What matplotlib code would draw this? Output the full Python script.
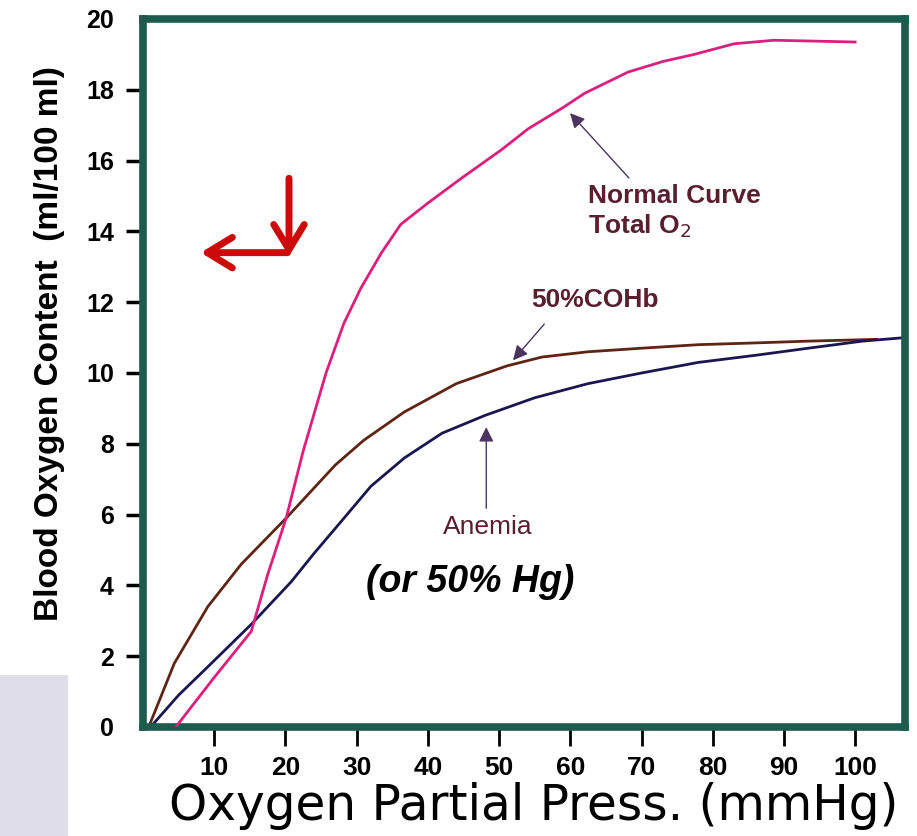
import matplotlib.pyplot as plt
from matplotlib.patches import Rectangle

# values
x_normal = [4.6, 10.0, 15.2, 17.5, 20.1, 22.5, 25.7, 28.2, 30.6, 33.5, 36.2, 40.0, 44.7, 50.3, 54.1, 59.0, 62.0, 68.1, 73.0, 77.4, 83.0, 88.6, 100.0]
y_normal = [0.0, 1.4, 2.7, 4.3, 5.9, 7.8, 10.0, 11.4, 12.4, 13.4, 14.2, 14.8, 15.5, 16.3, 16.9, 17.5, 17.9, 18.5, 18.8, 19.0, 19.3, 19.4, 19.35]

x_cohb = [1.0, 4.4, 9.1, 13.8, 20.1, 27.0, 31.0, 36.7, 44.0, 51.1, 56.0, 62.5, 70.0, 78.0, 86.0, 93.4, 103.0]
y_cohb = [0.1, 1.8, 3.4, 4.6, 5.9, 7.4, 8.1, 8.9, 9.7, 10.2, 10.45, 10.6, 10.7, 10.8, 10.85, 10.9, 10.95]

x_anemia = [1.5, 5.0, 9.1, 15.2, 20.8, 24.0, 27.8, 32.0, 36.7, 42.0, 48.0, 55.0, 62.5, 70.0, 78.0, 86.0, 93.4, 101.0, 107.0]
y_anemia = [0.1, 0.9, 1.7, 2.9, 4.1, 4.9, 5.8, 6.8, 7.6, 8.3, 8.8, 9.3, 9.7, 10.0, 10.3, 10.5, 10.7, 10.9, 11.0]

x_ticks = [10, 20, 30, 40, 50, 60, 70, 80, 90, 100]
y_ticks = [0, 2, 4, 6, 8, 10, 12, 14, 16, 18, 20]

green = "#1d5c4c"

fig = plt.figure(figsize=(9.17, 8.36), dpi=100)
ax = fig.add_axes([143 / 917, 1 - 727 / 836, (905 - 143) / 917, (727 - 19) / 836])

ax.plot(x_normal, y_normal, color="#dc1f7c", lw=2.0, zorder=3)
ax.plot(x_cohb, y_cohb, color="#5e2414", lw=2.0, zorder=2)
ax.plot(x_anemia, y_anemia, color="#1a1650", lw=2.0, zorder=2)

ax.set_xlim(0, 107)
ax.set_ylim(0, 20)

for s in ax.spines.values():
    s.set_color(green)
    s.set_linewidth(5.5)

ax.set_xticks(x_ticks)
ax.set_yticks(y_ticks)
ax.tick_params(axis="x", direction="out", length=14, width=2, pad=7, color="black",
               labelsize=19)
ax.tick_params(axis="y", direction="out", length=12, width=2.5, pad=9, color="black",
               labelsize=18)
for lab in ax.get_xticklabels() + ax.get_yticklabels():
    lab.set_fontfamily("Liberation Sans")
    lab.set_fontweight("bold")
yt = ax.yaxis.get_major_ticks()
yt[0].tick1line.set_visible(False)
yt[-1].tick1line.set_visible(False)

fig.text(50 / 917, 1 - 344 / 836, "Blood Oxygen Content  (ml/100 ml)", rotation=90,
         ha="center", va="center", fontsize=24, fontweight="bold", family="Liberation Sans")
fig.text(534 / 917, 1 - 806 / 836, "Oxygen Partial Press. (mmHg)", ha="center", va="center",
         fontsize=35, family="DejaVu Sans")

# label arrows
arrow_kw = dict(arrowstyle="-|>", color="#4b3560", lw=1.0, mutation_scale=22)
ax.annotate("", xy=(59.7, 17.4), xytext=(68.5, 15.45), arrowprops=arrow_kw)
ax.annotate("", xy=(51.7, 10.3), xytext=(56.6, 11.44), arrowprops=arrow_kw)
ax.annotate("", xy=(48.2, 8.55), xytext=(48.2, 6.1), arrowprops=arrow_kw)

txt = "#5a1f2e"
ax.text(62.5, 14.55, "Normal Curve\nTotal O$_2$", ha="left", va="center", fontsize=19,
        fontweight="bold", color=txt, family="Liberation Sans", linespacing=1.25)
ax.text(54.5, 12.06, "50%COHb", ha="left", va="center", fontsize=19,
        fontweight="bold", color=txt, family="Liberation Sans")
ax.text(42.1, 5.65, "Anemia", ha="left", va="center", fontsize=19,
        color=txt, family="Liberation Sans")
ax.text(31.3, 4.1, "(or 50% Hg)", ha="left", va="center", fontsize=27,
        fontweight="bold", fontstyle="italic", color="black", family="Liberation Sans")

# red arrows
red_kw = dict(arrowstyle="->,head_length=0.9,head_width=0.55", color="#cc0a0a", lw=5,
              mutation_scale=20, shrinkA=0, shrinkB=0)
ax.annotate("", xy=(20.5, 13.3), xytext=(20.5, 15.5), arrowprops=red_kw)
ax.annotate("", xy=(8.1, 13.4), xytext=(20.3, 13.4), arrowprops=red_kw)

fig.add_artist(Rectangle((0, 0), 68 / 917, (836 - 675) / 836, transform=fig.transFigure,
                         facecolor="#dfdee8", edgecolor="none", zorder=0))

fig.savefig("out.png", dpi=100)
